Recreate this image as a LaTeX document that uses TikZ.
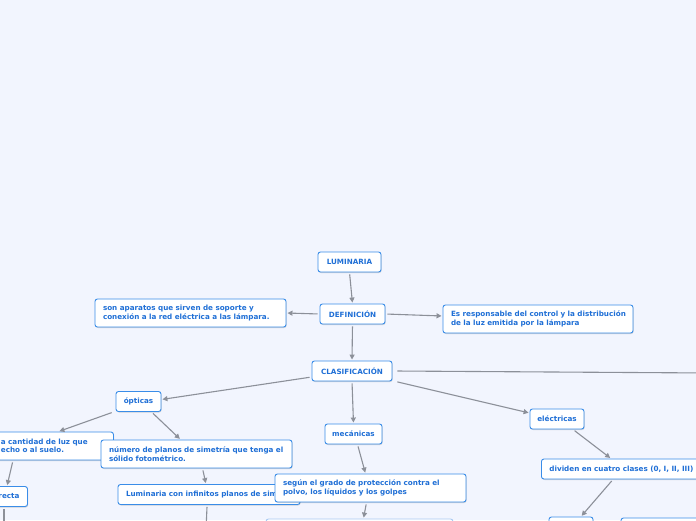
\documentclass[tikz,border=0pt]{standalone}
\usepackage{fontspec}
\setmainfont{DejaVu Sans}
\usetikzlibrary{arrows.meta,calc,shadows}
\definecolor{bgc}{HTML}{F2F5FE}
\definecolor{bordc}{HTML}{3A8DE8}
\definecolor{txtc}{HTML}{1F6FD6}
\definecolor{linec}{HTML}{8C9099}
\definecolor{paleb}{HTML}{A9C9F2}
\newcommand{\boxfont}{\fontsize{7.2}{8.4}\selectfont\bfseries\hbadness=10000\hfuzz=30pt}
\tikzset{
  box/.style={draw=bordc, fill=white, rounded corners=2.5pt, line width=0.9pt,
    text=txtc, font=\boxfont, inner xsep=8pt, inner ysep=0pt, minimum height=20pt,
    drop shadow={shadow xshift=0.6pt, shadow yshift=-1pt, opacity=0.25, fill=black!60}},
  wide/.style={box, text width=#1, align=left, minimum height=28pt},
  conn/.style={draw=linec, line width=1.1pt, -{Triangle[length=5pt,width=5pt]},
    shorten >=1pt, shorten <=2pt},
  plain/.style={draw=linec, line width=1.1pt},
}
\begin{document}
\begin{tikzpicture}[x=1pt,y=-1pt]
\useasboundingbox (0,0) rectangle (696,520);
\fill[bgc] (0,0) rectangle (696,520);
\clip (0,0) rectangle (696,520);

% nodes
\node[box, minimum width=63pt] (lum) at (349.5,262) {LUMINARIA};
\node[box, minimum width=65pt] (def) at (352.5,314) {DEFINICIÓN};
\node[wide=175pt] (son) at (190.5,313) {\mbox{son aparatos que sirven de soporte y}\\\mbox{conexión a la red eléctrica a las lámpara.}};
\node[wide=174pt] (es) at (538,319) {\mbox{Es responsable del control y la distribución}\\\mbox{de la luz emitida por la lámpara}};
\node[box, minimum width=80pt] (clas) at (352,371) {CLASIFICACIÓN};
\node[box, minimum width=45pt, inner xsep=2pt] (opt) at (138.5,401.5) {ópticas};
\node[wide=102pt, anchor=west, inner xsep=10.5pt] (cant) at (-10,446) {\mbox{a cantidad de luz que}\\\mbox{echo o al suelo.}};
\node[box, minimum width=34pt] (recta) at (9,496.5) {recta};
\node[wide=175pt] (num) at (196.5,454) {\mbox{número de planos de simetría que tenga el}\\\mbox{sólido fotométrico.}};
\node[box, text width=166pt, align=left] (lci) at (209,494.5) {\mbox{Luminaria con infinitos planos de simetría}};
\node[box, minimum width=57pt, inner xsep=2pt] (mec) at (353.5,434) {mecánicas};
\node[wide=175pt] (seg) at (370.5,488) {\mbox{según el grado de protección contra el}\\\mbox{polvo, los líquidos y los golpes}};
\node[box, minimum width=54pt, inner xsep=2pt] (elec) at (557,419) {eléctricas};
\node[box, text width=160pt, align=left, anchor=west] (div) at (541,469) {\mbox{dividen en cuatro clases (0, I, II, III)}};
\node[box, draw=paleb, minimum width=187pt] (b1) at (359.5,529) {};
\node[box, minimum width=44pt] (b2) at (571,527) {};
\node[box, minimum width=90pt] (b3) at (666,528) {};

\coordinate (offR) at (710,373);
\coordinate (offA) at (4,530);
\coordinate (offB) at (206,530);

% connectors
\draw[conn] (lum.south) -- (def.north);
\draw[conn] (def.west) -- (son.east);
\draw[conn] (def.east) -- ($(es.west)+(0,-3)$);
\draw[conn] (def.south) -- (clas.north);
\draw[conn] ($(clas.west)+(0,6)$) -- ($(opt.east)+(0,-2)$);
\draw[conn] (clas.south) -- (mec.north);
\draw[conn] ($(clas.south east)+(3,0)$) -- ($(elec.west)+(0,-6)$);
\draw[conn] ($(clas.east)+(3,0)$) -- (offR);
\draw[conn] ($(opt.south west)+(-2,0)$) -- ($(cant.north)+(6.5,0)$);
\draw[conn] ($(opt.south)+(13,0)$) -- ($(num.north west)+(80,0)$);
\draw[conn] ($(cant.south west)+(23,0)$) -- ($(recta.north)+(-2,0)$);
\draw[plain] ($(recta.south)+(-5,2)$) -- (offA);
\draw[conn] ($(num.south)+(6,0)$) -- ($(lci.north)+(-3,0)$);
\draw[plain] ($(lci.south)+(-2,2)$) -- (offB);
\draw[conn] ($(mec.south)+(4,0)$) -- ($(seg.north)+(-5,0)$);
\draw[conn] ($(seg.south)+(-4,0)$) -- ($(b1.north)+(4,0)$);
\draw[conn] ($(elec.south)+(16,0)$) -- ($(div.north west)+(70,0)$);
\draw[conn] ($(div.south west)+(72,0)$) -- ($(b2.north)+(10,0)$);
\end{tikzpicture}
\end{document}
